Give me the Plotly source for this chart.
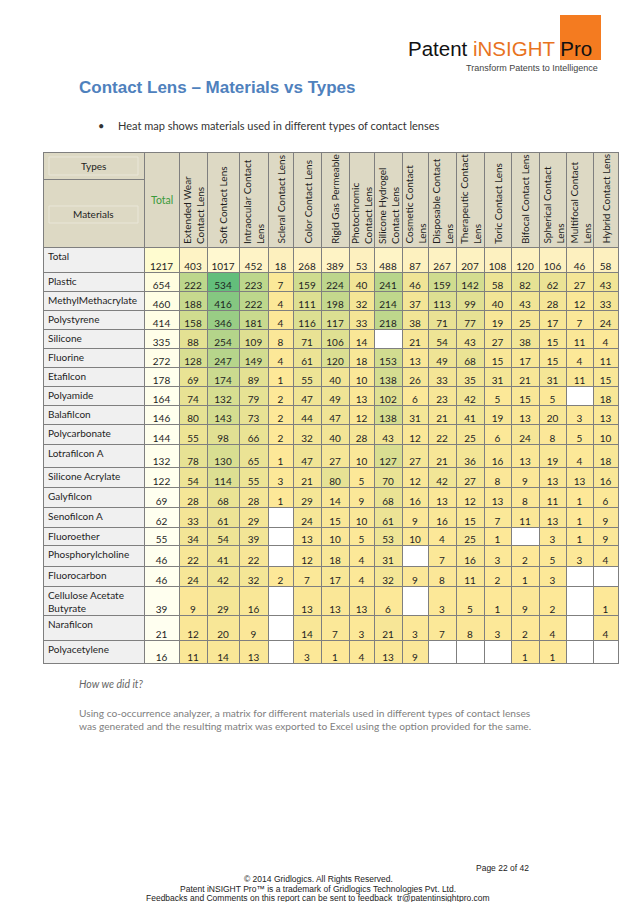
import plotly.graph_objects as go

# ---------------- DATA ----------------
materials = ["Total", "Plastic", "MethylMethacrylate", "Polystyrene", "Silicone", "Fluorine",
             "Etafilcon", "Polyamide", "Balafilcon", "Polycarbonate", "Lotrafilcon A",
             "Silicone Acrylate", "Galyfilcon", "Senofilcon A", "Fluoroether",
             "Phosphorylcholine", "Fluorocarbon", "Cellulose Acetate<br>Butyrate",
             "Narafilcon", "Polyacetylene"]

types = ["Extended Wear<br>Contact Lens", "Soft Contact Lens", "Intraocular Contact<br>Lens",
         "Scleral Contact Lens", "Color Contact Lens", "Rigid Gas Permeable",
         "Photochromic<br>Contact Lens", "Silicone Hydrogel<br>Contact Lens",
         "Cosmetic Contact<br>Lens", "Disposable Contact<br>Lens", "Therapeutic Contact<br>Lens",
         "Toric Contact Lens", "Bifocal Contact Lens", "Spherical Contact<br>Lens",
         "Multifocal Contact<br>Lens", "Hybrid Contact Lens"]

# "Total" column (one value per material row, incl. the Total row)
total_by_material = [1217, 654, 460, 414, 335, 272, 178, 164, 146, 144, 132, 122, 69, 62, 55,
                     46, 46, 39, 21, 16]

# "Total" row (one value per type)
total_by_type = [403, 1017, 452, 18, 268, 389, 53, 488, 87, 267, 207, 108, 120, 106, 46, 58]

N = None
# material x type counts (rows: Plastic .. Polyacetylene)
counts = [
    [222, 534, 223, 7, 159, 224, 40, 241, 46, 159, 142, 58, 82, 62, 27, 43],
    [188, 416, 222, 4, 111, 198, 32, 214, 37, 113, 99, 40, 43, 28, 12, 33],
    [158, 346, 181, 4, 116, 117, 33, 218, 38, 71, 77, 19, 25, 17, 7, 24],
    [88, 254, 109, 8, 71, 106, 14, N, 21, 54, 43, 27, 38, 15, 11, 4],
    [128, 247, 149, 4, 61, 120, 18, 153, 13, 49, 68, 15, 17, 15, 4, 11],
    [69, 174, 89, 1, 55, 40, 10, 138, 26, 33, 35, 31, 21, 31, 11, 15],
    [74, 132, 79, 2, 47, 49, 13, 102, 6, 23, 42, 5, 15, 5, N, 18],
    [80, 143, 73, 2, 44, 47, 12, 138, 31, 21, 41, 19, 13, 20, 3, 13],
    [55, 98, 66, 2, 32, 40, 28, 43, 12, 22, 25, 6, 24, 8, 5, 10],
    [78, 130, 65, 1, 47, 27, 10, 127, 27, 21, 36, 16, 13, 19, 4, 18],
    [54, 114, 55, 3, 21, 80, 5, 70, 12, 42, 27, 8, 9, 13, 13, 16],
    [28, 68, 28, 1, 29, 14, 9, 68, 16, 13, 12, 13, 8, 11, 1, 6],
    [33, 61, 29, N, 24, 15, 10, 61, 9, 16, 15, 7, 11, 13, 1, 9],
    [34, 54, 39, N, 13, 10, 5, 53, 10, 4, 25, 1, N, 3, 1, 9],
    [22, 41, 22, N, 12, 18, 4, 31, N, 7, 16, 3, 2, 5, 3, 4],
    [24, 42, 32, 2, 7, 17, 4, 32, 9, 8, 11, 2, 1, 3, N, N],
    [9, 29, 16, N, 13, 13, 13, 6, N, 3, 5, 1, 9, 2, N, 1],
    [12, 20, 9, N, 14, 7, 3, 21, 3, 7, 8, 3, 2, 4, N, 4],
    [11, 14, 13, N, 3, 1, 4, 13, 9, N, N, N, 1, 1, N, N],
]

footer_lines = ["© 2014 Gridlogics. All Rights Reserved.",
                "Patent iNSIGHT Pro™ is a trademark of Gridlogics Technologies Pvt. Ltd.",
                "Feedbacks and Comments on this report can be sent to feedback_tr@patentinsightpro.com"]

# ---------------- LAYOUT GEOMETRY (page pixels) ----------------
W, H = 638, 902
PAGE_MARGIN = 8   # default body margin of the html page
TABLE_LEFT = 43
COL_WIDTHS = [101, 35, 28, 32, 29, 25, 28, 28, 25, 28, 26, 28, 28, 27, 28, 27, 27, 25]
HEAD_TOP, HEAD_SPLIT, HEAD_BOTTOM = 152, 179, 247
ROW_HEIGHTS = [25] + [19] * 8 + [20, 23, 20, 20, 20, 18, 21, 20, 29, 25, 23]

col_edges = [TABLE_LEFT]
for w in COL_WIDTHS:
    col_edges.append(col_edges[-1] + w)
row_edges = [HEAD_BOTTOM]
for h in ROW_HEIGHTS:
    row_edges.append(row_edges[-1] + h)
TABLE_RIGHT = col_edges[-1]
TABLE_BOTTOM = row_edges[-1]

col_centers = [(a + b) / 2 for a, b in zip(col_edges[:-1], col_edges[1:])]

BODY_FONT = "Lato, 'Open Sans', sans-serif"
ARIAL = "Liberation Sans, Arial, sans-serif"
GRID = "#7f7f7f"

fig = go.Figure()

# main heat map (yellow -> green)
fig.add_trace(go.Heatmap(
    z=counts, x=col_edges[2:], y=row_edges[1:],
    colorscale=[[0, "#FDE898"], [1, "#63BE7B"]], zmin=1, zmax=534,
    showscale=False, hoverinfo="skip"))

# Total row
fig.add_trace(go.Heatmap(
    z=[total_by_type], x=col_edges[2:], y=row_edges[0:2],
    colorscale=[[0, "#FDF0BE"], [1, "#FFF8D0"]],
    showscale=False, hoverinfo="skip"))

# Total column
fig.add_trace(go.Heatmap(
    z=[[v] for v in total_by_material], x=col_edges[1:3], y=row_edges,
    colorscale=[[0, "#FFFFF0"], [1, "#FFFCD0"]],
    showscale=False, hoverinfo="skip"))

# numbers in cells
tx, ty, tt = [], [], []
for i, v in enumerate(total_by_material):
    tx.append(col_centers[1]); ty.append(row_edges[i + 1]); tt.append(str(v))
for j, v in enumerate(total_by_type):
    tx.append(col_centers[j + 2]); ty.append(row_edges[1]); tt.append(str(v))
for i, row in enumerate(counts):
    for j, v in enumerate(row):
        if v is not None:
            tx.append(col_centers[j + 2]); ty.append(row_edges[i + 2]); tt.append(str(v))
fig.add_trace(go.Scatter(
    x=tx, y=ty, text=tt, mode="text", textposition="top center",
    textfont=dict(family=BODY_FONT, size=10, color="#1e1e1e"),
    hoverinfo="skip", showlegend=False))

shapes = []
# header background
shapes.append(dict(type="rect", xref="x", yref="y", x0=TABLE_LEFT, x1=TABLE_RIGHT,
                   y0=HEAD_TOP, y1=HEAD_BOTTOM, fillcolor="#DDD9C4", line_width=0, layer="below"))
# material label column background
shapes.append(dict(type="rect", xref="x", yref="y", x0=TABLE_LEFT, x1=col_edges[1],
                   y0=HEAD_BOTTOM, y1=TABLE_BOTTOM, fillcolor="#F0F0F0", line_width=0, layer="below"))
# faint inner boxes around Types / Materials
for (y0, y1) in [(157, 175), (206, 223)]:
    shapes.append(dict(type="rect", xref="x", yref="y", x0=TABLE_LEFT + 6, x1=col_edges[1] - 6,
                       y0=y0, y1=y1, line=dict(color="#E9E6D8", width=1)))
# grid lines
for xe in col_edges:
    shapes.append(dict(type="line", xref="x", yref="y", x0=xe + 0.5, x1=xe + 0.5,
                       y0=HEAD_TOP, y1=TABLE_BOTTOM + 1, line=dict(color=GRID, width=1), layer="above"))
for ye in [HEAD_TOP] + row_edges:
    shapes.append(dict(type="line", xref="x", yref="y", x0=TABLE_LEFT, x1=TABLE_RIGHT + 1,
                       y0=ye + 0.5, y1=ye + 0.5, line=dict(color=GRID, width=1), layer="above"))
shapes.append(dict(type="line", xref="x", yref="y", x0=TABLE_LEFT, x1=col_edges[1],
                   y0=HEAD_SPLIT + 0.5, y1=HEAD_SPLIT + 0.5, line=dict(color=GRID, width=1), layer="above"))
# logo box
shapes.append(dict(type="rect", xref="x", yref="y", x0=560, x1=601, y0=15, y1=60,
                   fillcolor="#F47B20", line_width=0, layer="below"))

ann = []
# column headers (rotated)
for j, t in enumerate(types):
    ann.append(dict(x=col_centers[j + 2], y=HEAD_BOTTOM - 2, xref="x", yref="y", text=t,
                    textangle=-90, xanchor="center", yanchor="bottom", align="left",
                    showarrow=False, borderpad=0,
                    font=dict(family=BODY_FONT, size=10, color="#1e1e1e")))
ann.append(dict(x=col_centers[1], y=(HEAD_TOP + HEAD_BOTTOM) / 2, xref="x", yref="y",
                text="Total", showarrow=False, font=dict(family=BODY_FONT, size=10.5, color="#3A9A3A")))
ann.append(dict(x=(TABLE_LEFT + col_edges[1]) / 2, y=(HEAD_TOP + HEAD_SPLIT) / 2, xref="x", yref="y",
                text="Types", showarrow=False, font=dict(family=BODY_FONT, size=10, color="#1e1e1e")))
ann.append(dict(x=(TABLE_LEFT + col_edges[1]) / 2, y=214, xref="x", yref="y",
                text="Materials", showarrow=False, font=dict(family=BODY_FONT, size=10, color="#1e1e1e")))
# row labels
for i, m in enumerate(materials):
    ann.append(dict(x=TABLE_LEFT + 4, y=row_edges[i] + 2, xref="x", yref="y", text=m,
                    xanchor="left", yanchor="top", align="left", showarrow=False, borderpad=0,
                    font=dict(family=BODY_FONT, size=10, color="#1e1e1e")))

# page texts
ann += [
    dict(x=406, y=48, xref="x", yref="y", xanchor="left", yanchor="middle", showarrow=False,
         text="Patent <span style='color:#E8731E'>iNSIGHT</span> Pro",
         font=dict(family=ARIAL, size=20.5, color="#111111")),
    dict(x=600, y=68, xref="x", yref="y", xanchor="right", yanchor="middle", showarrow=False,
         text="Transform Patents to Intelligence",
         font=dict(family=ARIAL, size=9, color="#444444")),
    dict(x=77, y=87, xref="x", yref="y", xanchor="left", yanchor="middle", showarrow=False,
         text="<b>Contact Lens – Materials vs Types</b>",
         font=dict(family=ARIAL, size=17, color="#4F81BD")),
    dict(x=96, y=125, xref="x", yref="y", xanchor="left", yanchor="middle", showarrow=False,
         text="•", font=dict(family=BODY_FONT, size=11, color="#333333")),
    dict(x=116, y=125, xref="x", yref="y", xanchor="left", yanchor="middle", showarrow=False,
         text="Heat map shows materials used in different types of contact lenses",
         font=dict(family=BODY_FONT, size=11, color="#333333")),
    dict(x=77, y=684, xref="x", yref="y", xanchor="left", yanchor="middle", showarrow=False,
         text="<i>How we did it?</i>", font=dict(family=BODY_FONT, size=10.5, color="#666666")),
    dict(x=77, y=719, xref="x", yref="y", xanchor="left", yanchor="middle", showarrow=False,
         align="left",
         text="Using co-occurrence analyzer, a matrix for different materials used in different types of contact lenses"
              "<br>was generated and the resulting matrix was exported to Excel using the option provided for the same.",
         font=dict(family=BODY_FONT, size=10.2, color="#808080")),
    dict(x=531, y=868, xref="x", yref="y", xanchor="right", yanchor="middle", showarrow=False,
         text="Page 22 of 42", font=dict(family=ARIAL, size=8.5, color="#222222")),
]
for k, line in enumerate(footer_lines):
    ann.append(dict(x=318, y=879 + 9.5 * k, xref="x", yref="y", xanchor="center", yanchor="middle",
                    showarrow=False, text=line, borderpad=0,
                    font=dict(family=ARIAL, size=8.5, color="#222222")))

fig.update_layout(
    width=W - PAGE_MARGIN, height=H - PAGE_MARGIN, margin=dict(l=0, r=0, t=0, b=0),
    paper_bgcolor="white", plot_bgcolor="white", showlegend=False,
    xaxis=dict(range=[PAGE_MARGIN, W], visible=False, fixedrange=True),
    yaxis=dict(range=[H, PAGE_MARGIN], visible=False, fixedrange=True),
    shapes=shapes, annotations=ann,
)

fig.write_html("out.html")
